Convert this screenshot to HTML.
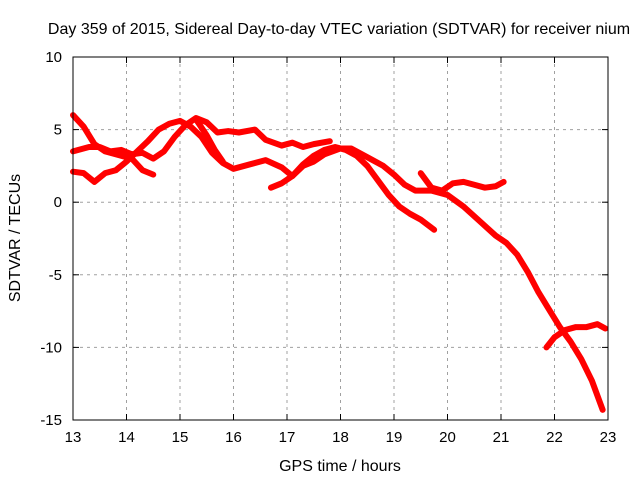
<!DOCTYPE html>
<html><head><meta charset="utf-8"><style>
body{margin:0;background:#fff}
svg{display:block;font-family:"Liberation Sans",sans-serif}
</style></head><body>
<svg width="640" height="480" id="c">
<rect x="0" y="0" width="640" height="480" fill="#fff"/>
<text x="339" y="34" font-size="16" text-anchor="middle">Day 359 of 2015, Sidereal Day-to-day VTEC variation (SDTVAR) for receiver nium</text>
<text x="340" y="471" font-size="16" text-anchor="middle">GPS time / hours</text>
<text transform="translate(20,238) rotate(-90)" font-size="16" text-anchor="middle">SDTVAR / TECUs</text>
<g id="grid"></g><g id="ticks"></g><g id="series"></g>
<rect x="73" y="57" width="535" height="363" fill="none" stroke="#000" stroke-width="1"/>
</svg>
<script>
const xTicks=[13,14,15,16,17,18,19,20,21,22,23];
const yTicks=[10,5,0,-5,-10,-15];
const s1=[[13.0,6],[13.2,5.2],[13.4,4],[13.6,3.5],[13.9,3.2],[14.1,3],[14.3,2.2],[14.5,1.9]];
const s2=[[13,3.5],[13.3,3.8],[13.5,3.8],[13.7,3.5],[13.9,3.6],[14.1,3.3],[14.3,3.4],[14.5,3],[14.7,3.5],[14.9,4.5],[15.1,5.3],[15.3,5.8],[15.5,5.5],[15.7,4.8],[15.9,4.9],[16.1,4.8],[16.4,5],[16.6,4.3],[16.9,3.9],[17.1,4.1],[17.3,3.8],[17.5,4.0],[17.8,4.2]];
const s3=[[13,2.1],[13.2,2.0],[13.4,1.4],[13.6,2.0],[13.8,2.2],[14.0,2.8],[14.2,3.5],[14.4,4.2],[14.6,5],[14.8,5.4],[15.0,5.6],[15.2,5.2],[15.4,4.5],[15.6,3.4],[15.8,2.7],[16.0,2.3],[16.3,2.6],[16.6,2.9],[16.9,2.4],[17.1,1.8],[17.3,2.5],[17.5,2.8],[17.7,3.3],[18.0,3.7],[18.2,3.7],[18.5,3.1],[18.8,2.5],[19.0,1.9],[19.2,1.2],[19.4,0.8],[19.7,0.8],[20.0,0.5],[20.3,-0.3],[20.6,-1.3],[20.9,-2.3],[21.1,-2.8],[21.3,-3.6],[21.5,-4.8],[21.7,-6.2],[21.9,-7.4],[22.1,-8.6],[22.3,-9.6],[22.5,-10.8],[22.7,-12.3],[22.9,-14.3]];
const s4=[[16.7,1.0],[16.9,1.3],[17.1,1.8],[17.3,2.6],[17.5,3.2],[17.7,3.6],[17.9,3.8],[18.1,3.6],[18.3,3.2],[18.5,2.5],[18.7,1.5],[18.9,0.5],[19.1,-0.3],[19.3,-0.8],[19.5,-1.2],[19.75,-1.9]];
const s5=[[19.5,2.0],[19.7,1.0],[19.9,0.8],[20.1,1.3],[20.3,1.4],[20.5,1.2],[20.7,1.0],[20.9,1.1],[21.05,1.4]];
const s6=[[21.85,-10],[22.0,-9.3],[22.2,-8.8],[22.4,-8.6],[22.6,-8.6],[22.8,-8.4],[22.95,-8.7]];
const s7=[[15.3,5.7],[15.5,4.6],[15.65,3.6],[15.8,2.8]];
const seriesList=[s1,s2,s3,s4,s5,s6,s7];
const X=h=>73+(h-13)*53.5, Y=v=>57+(10-v)*14.52;
const NS="http://www.w3.org/2000/svg";
function mk(t,a,p){const e=document.createElementNS(NS,t);for(const k in a)e.setAttribute(k,a[k]);p.appendChild(e);return e;}
const g=document.getElementById('grid'),tk=document.getElementById('ticks'),sg=document.getElementById('series');
xTicks.forEach(t=>{const x=X(t);
 if(t>13&&t<23){const l=mk('line',{x1:x,x2:x,y1:57,y2:420,stroke:'#a0a0a0','stroke-dasharray':'3,4'},g);
 
 }
 const tx=mk('text',{x:x,y:442,'font-size':15,'text-anchor':'middle'},tk);tx.textContent=t;
 
 
 mk('line',{x1:x,x2:x,y1:420,y2:414,stroke:'#000'},tk);mk('line',{x1:x,x2:x,y1:57,y2:63,stroke:'#000'},tk);});
yTicks.forEach(t=>{const y=Y(t);
 if(t<10&&t>-15){const l=mk('line',{x1:73,x2:608,y1:y,y2:y,stroke:'#a0a0a0','stroke-dasharray':'3,4'},g);
 
 }
 const tx=mk('text',{x:62,y:y+5,'font-size':15,'text-anchor':'end'},tk);tx.textContent=t;
 
 
 mk('line',{x1:73,x2:79,y1:y,y2:y,stroke:'#000'},tk);mk('line',{x1:608,x2:602,y1:y,y2:y,stroke:'#000'},tk);});
seriesList.forEach((s,i)=>{
 const p=mk('polyline',{points:s.map(d=>X(d[0])+','+Y(d[1])).join(' '),fill:'none',stroke:'#f00','stroke-width':6,'stroke-linejoin':'round','stroke-linecap':'round'},sg);
 
 
});
</script>
</body></html>
